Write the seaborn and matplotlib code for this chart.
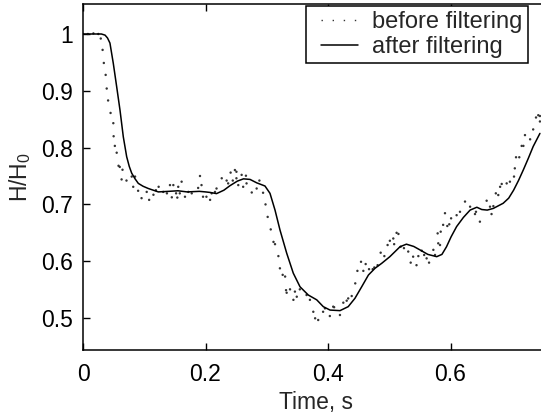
import matplotlib
matplotlib.use("Agg")
import matplotlib.pyplot as plt
from matplotlib.lines import Line2D
from matplotlib.patches import Rectangle
from matplotlib.transforms import IdentityTransform
import seaborn as sns
import pandas as pd

# ---- data ----
t_after = [0.0, 0.02, 0.03, 0.036, 0.040, 0.044, 0.0495, 0.055, 0.0604, 0.0658, 0.0713,
           0.0755, 0.0795, 0.085, 0.0903, 0.0980, 0.1066, 0.123, 0.14, 0.155, 0.17, 0.19,
           0.20, 0.208, 0.218, 0.23, 0.24, 0.252, 0.262, 0.2727, 0.2836, 0.2971, 0.3053,
           0.3135, 0.3216, 0.3326, 0.3433, 0.3543, 0.3678, 0.3816, 0.3923, 0.4033, 0.4196,
           0.433, 0.444, 0.455, 0.466, 0.4767, 0.4877, 0.501, 0.5176, 0.528, 0.540, 0.550,
           0.563, 0.5775, 0.586, 0.5935, 0.601, 0.610, 0.621, 0.632, 0.643, 0.651, 0.660,
           0.670, 0.686, 0.695, 0.703, 0.711, 0.719, 0.727, 0.735, 0.746]
h_after = [1.0, 1.0, 1.0, 0.998, 0.993, 0.984, 0.948, 0.907, 0.866, 0.819, 0.784,
           0.767, 0.755, 0.745, 0.737, 0.732, 0.728, 0.722, 0.723, 0.724, 0.722, 0.723,
           0.722, 0.721, 0.719, 0.725, 0.733, 0.741, 0.745, 0.744, 0.738, 0.7324, 0.7195,
           0.690, 0.655, 0.614, 0.579, 0.555, 0.5405, 0.532, 0.520, 0.514, 0.513,
           0.520, 0.5347, 0.555, 0.5757, 0.5875, 0.5963, 0.608, 0.6255, 0.630, 0.626, 0.620,
           0.612, 0.608, 0.612, 0.6255, 0.643, 0.661, 0.677, 0.690, 0.695, 0.691, 0.690,
           0.693, 0.702, 0.711, 0.725, 0.742, 0.761, 0.781, 0.802, 0.825]

t_before = [0.0, 0.008, 0.017, 0.025, 0.029, 0.032, 0.034, 0.037, 0.0387, 0.041, 0.045,
            0.0495, 0.050, 0.052, 0.055, 0.058, 0.060, 0.0645, 0.063, 0.071, 0.0795, 0.082,
            0.085, 0.090, 0.0956, 0.104, 0.108, 0.115, 0.119, 0.1235, 0.131, 0.137, 0.142,
            0.145, 0.1475, 0.152, 0.154, 0.1555, 0.158, 0.161, 0.1665, 0.172, 0.1775, 0.188,
            0.191, 0.1935, 0.196, 0.2015, 0.2075, 0.210, 0.2155, 0.218, 0.2265, 0.2345,
            0.237, 0.241, 0.2445, 0.248, 0.2505, 0.2505, 0.2535, 0.259, 0.2615, 0.267,
            0.266, 0.2755, 0.2835, 0.288, 0.294, 0.298, 0.3015, 0.3065, 0.311, 0.3135,
            0.319, 0.3215, 0.326, 0.330, 0.3315, 0.3325, 0.338, 0.3435, 0.346, 0.349,
            0.354, 0.365, 0.3705, 0.376, 0.379, 0.384, 0.392, 0.395, 0.403, 0.4085, 0.410,
            0.4195, 0.425, 0.4305, 0.433, 0.4387, 0.4445, 0.448, 0.4539, 0.4577, 0.4615,
            0.467, 0.473, 0.4756, 0.481, 0.486, 0.492, 0.4973, 0.501, 0.5066, 0.508, 0.512,
            0.515, 0.5186, 0.524, 0.531, 0.535, 0.539, 0.5445, 0.5475, 0.553, 0.557, 0.561,
            0.565, 0.572, 0.5747, 0.580, 0.5829, 0.579, 0.584, 0.588, 0.591, 0.5948, 0.598,
            0.601, 0.610, 0.6155, 0.6237, 0.632, 0.640, 0.6416, 0.648, 0.659, 0.6645, 0.667,
            0.670, 0.674, 0.678, 0.681, 0.6836, 0.6917, 0.697, 0.7037, 0.705, 0.707, 0.7123,
            0.7162, 0.719, 0.7216, 0.730, 0.735, 0.7396, 0.7433, 0.746, 0.746]
h_before = [1.0, 1.0, 1.001, 1.0, 0.992, 0.972, 0.949, 0.928, 0.904, 0.883, 0.861,
            0.843, 0.820, 0.803, 0.791, 0.768, 0.766, 0.761, 0.744, 0.742, 0.749, 0.731,
            0.749, 0.724, 0.711, 0.722, 0.708, 0.717, 0.725, 0.731, 0.722, 0.7195, 0.734,
            0.7125, 0.734, 0.7195, 0.712, 0.731, 0.7195, 0.740, 0.7135, 0.722, 0.7195, 0.729,
            0.750, 0.734, 0.7135, 0.7135, 0.708, 0.7195, 0.722, 0.728, 0.746, 0.742,
            0.737, 0.756, 0.742, 0.7605, 0.7575, 0.746, 0.734, 0.752, 0.731, 0.737,
            0.7505, 0.721, 0.728, 0.742, 0.7205, 0.700, 0.678, 0.656, 0.634, 0.630,
            0.609, 0.5875, 0.576, 0.573, 0.549, 0.5445, 0.5505, 0.532, 0.5465, 0.5375,
            0.5505, 0.5405, 0.532, 0.511, 0.4995, 0.4965, 0.511, 0.517, 0.5035, 0.520, 0.519,
            0.5053, 0.527, 0.5305, 0.5345, 0.5387, 0.561, 0.583, 0.599, 0.583, 0.595,
            0.586, 0.586, 0.589, 0.593, 0.615, 0.609, 0.6285, 0.636, 0.640, 0.630, 0.650,
            0.648, 0.6255, 0.623, 0.617, 0.5975, 0.608, 0.593, 0.609, 0.6185, 0.611, 0.605,
            0.5975, 0.620, 0.611, 0.6315, 0.6285, 0.649, 0.652, 0.664, 0.6845, 0.662, 0.665,
            0.6755, 0.681, 0.687, 0.705, 0.696, 0.683, 0.687, 0.6696, 0.7065, 0.696, 0.683,
            0.697, 0.7195, 0.7165, 0.731, 0.736, 0.737, 0.740, 0.749, 0.7635, 0.783, 0.783,
            0.803, 0.803, 0.822, 0.8146, 0.832, 0.853, 0.857, 0.846, 0.8556]

x_ticks = [0, 0.2, 0.4, 0.6]
x_tick_labels = ["0", "0.2", "0.4", "0.6"]
y_ticks = [0.5, 0.6, 0.7, 0.8, 0.9, 1.0]
y_tick_labels = ["0.5", "0.6", "0.7", "0.8", "0.9", "1"]
legend_labels = ["before filtering", "after filtering"]

# ---- style ----
sns.set_style("ticks")
plt.rcParams["font.family"] = ["Liberation Sans", "DejaVu Sans"]
plt.rcParams["mathtext.fontset"] = "custom"
plt.rcParams["mathtext.rm"] = "Liberation Sans"
plt.rcParams["mathtext.it"] = "Liberation Sans"

FS = 16.5
fig = plt.figure(figsize=(5.41, 4.19), dpi=100)
ax = fig.add_axes([83 / 541, 69 / 419, 465.5 / 541, 346 / 419])

df_before = pd.DataFrame({"t": t_before, "h": h_before})
df_after = pd.DataFrame({"t": t_after, "h": h_after})

sns.scatterplot(data=df_before, x="t", y="h", ax=ax, s=3, color="#333333",
                edgecolor="none", marker="o", legend=False)
sns.lineplot(data=df_after, x="t", y="h", ax=ax, estimator=None, sort=False,
             color="black", linewidth=1.1, legend=False)

ax.set_xlim(0, 0.76)
ax.set_ylim(0.4437, 1.0528)
ax.set_xticks(x_ticks)
ax.set_xticklabels(x_tick_labels)
ax.set_yticks(y_ticks)
ax.set_yticklabels(y_tick_labels)

for side in ["left", "bottom", "top"]:
    ax.spines[side].set_linewidth(1.1)
    ax.spines[side].set_color("black")
ax.spines["right"].set_visible(False)

ax.tick_params(axis="both", direction="in", length=5, width=1.0, labelsize=FS,
               colors="black")
ax.tick_params(axis="x", pad=9, top=True)
ax.tick_params(axis="y", pad=7, right=False)

ax.set_xlabel("Time, s", fontsize=FS, labelpad=4)
ax.set_ylabel("H/H$_0$", fontsize=FS, labelpad=6)

handles = [Line2D([0], [0], color="#333333", linestyle=(0, (1, 7)), linewidth=1.0),
           Line2D([0], [0], color="black", linewidth=1.1)]
leg = fig.legend(handles, legend_labels, loc="upper right",
                 bbox_to_anchor=(528 / 541, 1 - 6 / 419), borderaxespad=0,
                 fontsize=17, frameon=False, handlelength=1.57, handletextpad=0.6,
                 labelspacing=0.12, borderpad=0.22)

# frame around legend, with the wider left margin of the original
fig.canvas.draw()
bb = leg.get_window_extent()
frame = Rectangle((bb.x0 - 10, bb.y0), bb.width + 10, bb.height,
                  transform=IdentityTransform(), fill=True, facecolor="white",
                  edgecolor="black", linewidth=1.1, zorder=4)
fig.add_artist(frame)
leg.set_zorder(5)

fig.savefig("out.png", dpi=100)
